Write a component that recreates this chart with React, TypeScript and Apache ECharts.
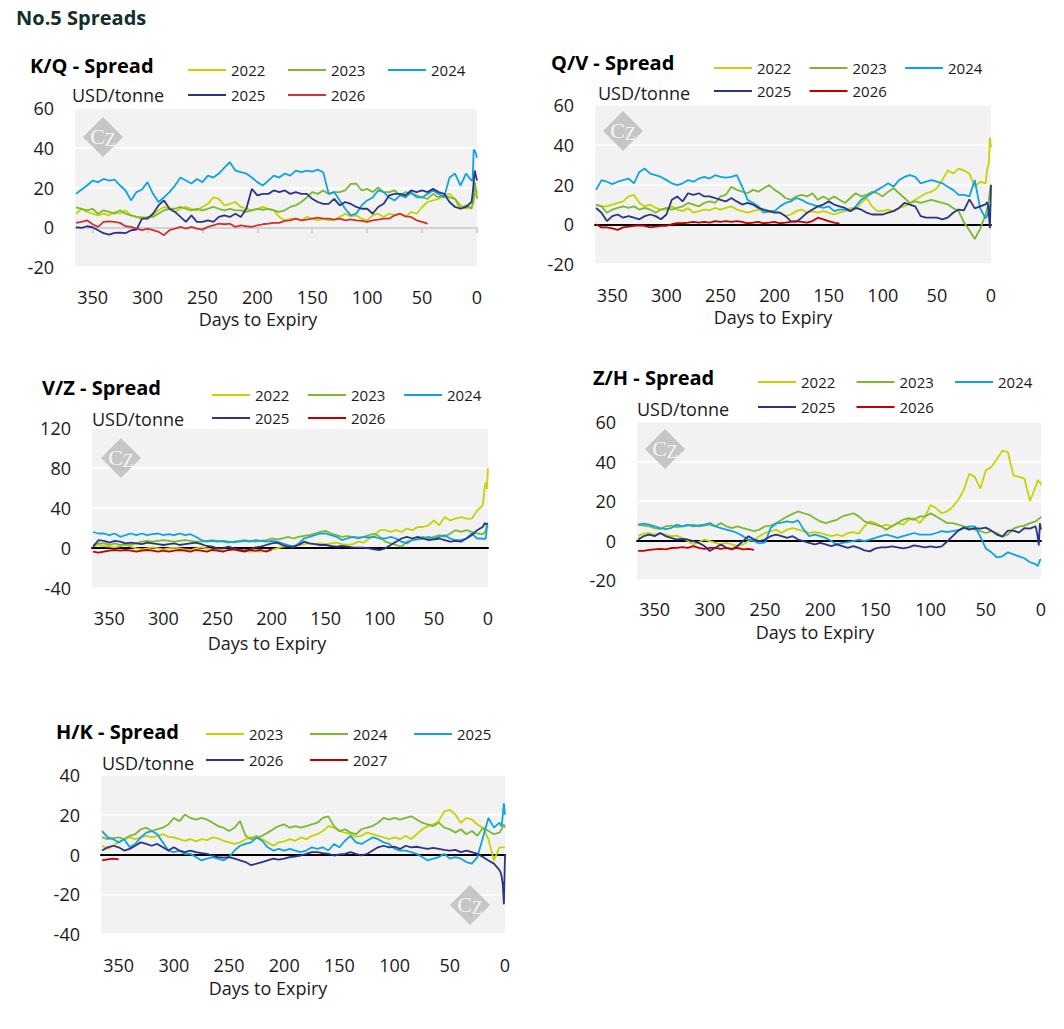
import React, { useEffect, useRef } from "react";
import * as echarts from "echarts";

// Days to expiry (x grid shared by all series)
const DAYS = [
  365, 360, 355, 350, 345, 340, 335, 330, 325, 320,
  315, 310, 305, 300, 295, 290, 285, 280, 275, 270,
  265, 260, 255, 250, 245, 240, 235, 230, 225, 220,
  215, 210, 205, 200, 195, 190, 185, 180, 175, 170,
  165, 160, 155, 150, 145, 140, 135, 130, 125, 120,
  115, 110, 105, 100, 95, 90, 85, 80, 75, 70,
  65, 60, 55, 50, 45, 40, 35, 30, 25, 20,
  15, 10, 5, 4, 3, 2, 1, 0,
];
const X_TICKS = [0, 50, 100, 150, 200, 250, 300, 350];

// ---------- K/Q ----------
const KQ_2022 = [
  6.8, 9.3, 7.7, 6.8, 6, 6.8, 6, 7.7, 6.8, 8.5,
  6, 5.2, 5.2, 4.3, 6, 8.5, 10.2, 9.3, 7.7, 9.3,
  10.2, 9.3, 8.5, 10.2, 11.8, 15, 14.3, 11, 11.8, 12.7,
  10.2, 9.3, 8.5, 9.3, 10.2, 9.3, 8.5, 5.2, 3.5, 4.3,
  4.3, 3.5, 5.2, 4.3, 3.5, 4.3, 3.5, 3.8, 5.2, 6.8,
  5.5, 6, 4.3, 3.5, 6, 6.8, 5.2, 6.8, 6, 6.8,
  5.2, 7.7, 6.8, 10.2, 12.7, 13.5, 14.3, 16, 16.8, 14.3,
  11, 9.3, 10.2, 11, 12.7, 16.8, 16, 18.5,
];
const KQ_2023 = [
  10, 9.3, 8.5, 9.3, 6.8, 8.5, 7.7, 6.8, 8.5, 6.8,
  6, 5.2, 4.3, 5.2, 5.2, 6.8, 8.5, 9.3, 9.3, 10.2,
  9.3, 8.5, 9.3, 8.5, 9.3, 10.2, 9.3, 8.5, 9.3, 8.5,
  8.5, 7.7, 8.5, 9.3, 8.8, 9.3, 8.5, 7.7, 8.5, 10.2,
  11, 12.7, 15, 17.7, 16.8, 18.5, 16.8, 17.7, 17.7, 18.5,
  21.8, 22, 18.5, 19.3, 17.7, 20, 17.7, 17.7, 18.5, 16,
  17.7, 16.8, 16, 15, 14.3, 16.8, 15, 16, 15, 14.3,
  9.3, 11, 9.3, 11.8, 15, 22.7, 19.3, 14.3,
];
const KQ_2024 = [
  16.8, 19, 21, 23.5, 22.7, 24.3, 23.5, 24, 21, 18.5,
  13.5, 17.7, 19, 22.7, 16.8, 12.7, 15, 17.7, 21, 25,
  23.5, 22, 24.3, 22.7, 26, 25, 27, 30, 32.7, 28.5,
  27.7, 27, 25, 22.7, 21, 23.5, 26, 25, 27, 26,
  28.5, 27.7, 28.5, 28, 29, 27.7, 16.8, 17.7, 13.5, 9.3,
  6, 6.8, 11, 13.5, 15, 18.5, 17.7, 15, 13.5, 16,
  15, 17.7, 15, 15, 16.8, 18.5, 16.8, 15, 25, 27,
  21, 27, 23.5, 23.5, 39, 38.5, 37, 35,
];
const KQ_2025 = [
  0, -0.3, 0.5, 0, -1.5, -3, -3.7, -2.8, -2.7, -3,
  -1.5, -1.2, 4.3, 4.3, 6.8, 11, 13.5, 9.3, 7.7, 5.2,
  2.7, 6, 2.7, 2.7, 3.5, 2.7, 5.2, 6, 5.2, 6.8,
  5.2, 9.3, 19.3, 16, 16.8, 16.8, 18.5, 17.7, 18.5, 16.8,
  17.7, 16.8, 16.8, 14.3, 12.7, 11.8, 11.8, 14.3, 11, 12.7,
  11.8, 10.2, 9.3, 9.3, 6.8, 10.2, 11.8, 16, 16.8, 16.8,
  16, 18.5, 17.7, 18.5, 17.7, 19.3, 17.7, 16.8, 12.7, 10.2,
  9.3, 10.2, 12.7, 16.8, 22.7, 28.5, 26, 23.5,
];
const KQ_2026 = [
  2.2, 2.7, 3.5, 1.5, 0.2, 2.7, 3, 2.7, 2.2, 0.5,
  0.2, -0.7, -1.5, -0.7, -1.5, -2.3, -4, -1.5, -0.7, 0.2,
  -0.7, 0.2, -0.7, -1.2, 0.2, 1, 1.8, 1.5, 1.8, 0.2,
  1, 0.5, 0.2, 1, 1.5, 1.8, 2.2, 2.2, 3.2, 3.5,
  4.3, 3.5, 3.8, 4.3, 4.8, 4.3, 4.3, 3.8, 4.3, 3.5,
  4, 3.5, 3.2, 2.7, 3.5, 3.8, 4.3, 4.3, 6, 6.8,
  5.5, 5.2, 3.5, 2.7, 1.8,
];

// ---------- Q/V ----------
const QV_2022 = [
  9.9, 9, 9, 9.9, 10.7, 11.5, 14, 14.8, 10.7, 9,
  9.9, 8.2, 7.4, 7.4, 9, 7.4, 6.6, 8.2, 5.8, 6.6,
  7.4, 7, 8.2, 7.4, 8.2, 9, 7.4, 6.6, 5.8, 6.6,
  7.4, 6.6, 5.8, 6.6, 5.8, 4.1, 4.9, 6.6, 7.4, 5.8,
  6.6, 5.8, 6.6, 5.8, 4.9, 5.8, 6.6, 8.2, 7.4, 10.7,
  13.2, 9, 6.6, 6.6, 7.4, 6.6, 8.2, 9, 10.7, 12.3,
  14, 15.6, 16.4, 18.1, 22.2, 27.1, 25.5, 28, 27.1, 25.5,
  18.9, 21.4, 20.6, 25.5, 28.8, 30.4, 43.6, 38.7,
];
const QV_2023 = [
  9.9, 9, 5.8, 7.4, 8.2, 9, 8.2, 9, 7.4, 8.2,
  7.4, 5.8, 7.4, 8.2, 7.4, 8.2, 9, 10.7, 9.9, 9,
  10.7, 11.5, 10.7, 14, 14.8, 18.9, 17.3, 16.4, 15.6, 17.3,
  16.4, 18.1, 19.7, 17.3, 15.6, 13.2, 12.3, 14, 14.8, 14,
  15.6, 12.3, 14, 12.3, 14, 12.3, 10.7, 13.2, 15.6, 14,
  14.8, 16.4, 15.6, 14, 16.4, 18.1, 15.6, 13.2, 10.7, 11.5,
  10.7, 11.5, 12.3, 11.5, 10.7, 10, 8.2, 6.6, 1, -3,
  -7.4, -2.3, 5, 7, 9, 12, 17, 20,
];
const QV_2024 = [
  17.3, 22.2, 21.4, 20.2, 21.4, 22.2, 23, 20.6, 26.3, 28,
  25.5, 24.7, 23.8, 22.2, 20.6, 19.7, 20.6, 22.2, 21.4, 23,
  23.8, 23, 24.7, 23.8, 23.5, 23.8, 24.7, 18.9, 12.3, 10.7,
  9, 5.8, 6.6, 6.6, 9, 10.7, 11.5, 13.2, 12.3, 10.7,
  9.9, 9, 8.2, 9, 6.6, 7.4, 7.4, 6.6, 9, 12.3,
  14, 15.6, 17.3, 18.9, 20.6, 18.9, 22.2, 23.8, 24.7, 23.8,
  20.6, 21.4, 22.2, 21.4, 20.6, 18.9, 17.3, 14.8, 14.8, 14,
  22.2, 8, 3, 4, 5, 7, 9, 10,
];
const QV_2025 = [
  8.2, 5.8, 1.6, 4.1, 4.9, 3.3, 4.1, 3.3, 2.5, 4.1,
  4.9, 4.1, 2.5, 4.9, 12.3, 14, 11.5, 15.6, 14.8, 15.6,
  14, 14, 13.2, 12.3, 11.5, 13.2, 11.5, 9.9, 10.7, 9.9,
  8.2, 7.4, 6.6, 5.8, 5.8, 4.1, 1.6, 1.2, 3.3, 5.8,
  7.4, 9, 9.9, 11.5, 9.9, 9, 8.2, 6.6, 8.2, 7.4,
  5.8, 4.9, 4.9, 4.9, 5.8, 6.6, 8.2, 10.7, 9.9, 9,
  4.1, 3.3, 3.3, 3.3, 2.5, 3.3, 5.8, 7.4, 7, 12.5,
  8, 9, 10, 11, 10.5, 5, -2, 19.7,
];
const QV_2026 = [
  0, -1.6, -1.6, -2.1, -2.8, -1.6, -1.2, -0.8, -0.5, -0.8,
  -1.6, -1.2, -0.8, -0.8, 0, 0.5, 0.5, 0.8, 1.2, 0.8,
  1.2, 0.8, 1.6, 1.2, 1.6, 1.2, 1.6, 1.2, 0.5, 0.8,
  1.2, 0.5, 0.8, 1.2, 0.5, 0.8, 1.2, 1.6, 1.2, 0.8,
  1.6, 3.3, 2.5, 1.6, 0.8, 0.3,
];

// ---------- V/Z ----------
const VZ_2022 = [
  1.3, 3, 2, 1.3, 0.7, 2, 3, 1.3, -0.3, -1.3,
  -0.3, 0.7, -0.3, -1.3, -0.3, 0.3, -0.3, -1.3, -2, -0.3,
  0.7, -0.3, -1.3, -2, -2.6, -2, -1.3, -2, -2.6, -3.6,
  -3, -3.6, -2.6, -2, -0.3, 1.3, 2, 1.3, 3, 3.9,
  4.6, 3.9, 4.6, 3.9, 4.6, 5.3, 3.9, 3, 3.9, 6.3,
  5.3, 9.5, 12.8, 17.8, 17.8, 16.1, 17.8, 16.1, 19.4, 17.8,
  21, 21, 22.7, 27.6, 22.7, 30.9, 27.6, 29.3, 30.9, 29.3,
  29.3, 37.5, 42.4, 50.7, 62, 65.5, 58.9, 79.6,
];
const VZ_2023 = [
  3, 4.6, 4.6, 3, 4.6, 3, 3.9, 3, 4.6, 6.3,
  7.2, 6.3, 7.2, 7.9, 7.2, 6.3, 7.2, 7.9, 7.2, 6.3,
  6.3, 7.2, 7.9, 7.2, 6.3, 5.3, 6.3, 7.2, 7.9, 7.2,
  6.3, 7.2, 7.9, 9.5, 8.6, 9.5, 11.2, 9.5, 11.2, 12.2,
  12.8, 14.5, 16.1, 17.1, 14.5, 12.8, 11.2, 11.8, 11.2, 10.5,
  11.2, 12.8, 14.5, 11.2, 6.3, 4.6, 3, 1.3, 6.3, 7.9,
  9.5, 11.2, 9.5, 11.2, 12.8, 11.2, 14.5, 17.8, 16.1, 17.8,
  16.1, 14.5, 13.8, 14.5, 16.1, 17.8, 24.3, 23.7,
];
const VZ_2024 = [
  16, 14.5, 14.5, 12.8, 14.5, 11.2, 12.8, 14.5, 12.8, 14.5,
  12.8, 13.8, 14.5, 12.8, 13.8, 12.8, 14.5, 12.8, 13.8, 11.2,
  7.9, 6.3, 7.2, 6.3, 7.2, 6.3, 5.6, 6.3, 7.2, 6.3,
  7.9, 7.2, 6.3, 7.2, 6.3, 4.6, 3, 1.3, 4.6, 9.5,
  11.2, 12.8, 14.5, 14.5, 12.8, 11.2, 7.9, 9.5, 11.2, 9.5,
  11.2, 10.5, 11.2, 9.5, 9.5, 11.2, 9.5, 6.3, 4.6, 7.9,
  8.6, 9.5, 11.2, 9.5, 11.2, 12.8, 9.5, 7.9, 7.9, 9.5,
  14.5, 9.5, 9.5, 8.6, 9.5, 9.5, 21, 22.7,
];
const VZ_2025 = [
  1.3, 7.9, 7.2, 5.3, 7.2, 6.3, 4.6, 5.3, 4.6, 3.9,
  5.3, 4.6, 3.9, 3, 3.9, 4.6, 3, 3.9, 4.6, 5.3,
  3.9, 2, 1.3, -0.3, -0.3, 1.3, -0.3, -2, -2.6, -1.3,
  0.7, 1.3, 3, 4.6, 5.3, 3, 1.3, 1.3, 3, 6.3,
  4.6, 3.9, 3, 3, 2, 1.3, 2, 1.3, 0.7, 0.3,
  0.3, -0.3, -1.3, -2, -0.3, 3, 6.3, 9.5, 11.2, 9.5,
  11.2, 9.5, 7.9, 8.6, 9.5, 7.9, 6.3, 7.2, 6.3, 9.5,
  12.8, 17.8, 21, 22.7, 25, 23.7, 24.3, 24.3,
];
const VZ_2026 = [
  -3.6, -4.6, -3.6, -2.6, -2, -2.6, -2, -2.6, -3.6, -2.6,
  -2, -2.6, -3.6, -2.6, -3.6, -2.6, -2, -2.6, -3.6, -2,
  -2.6, -3.6, -2, -2.6, -3.6, -2, -1.3, -2.6, -3.6, -2,
  -2.6, -2, -3.6, -1.3,
];

// ---------- Z/H ----------
const ZH_2022 = [
  2.2, 3.5, 3.8, 3, 3.8, 3, 2.2, 2.5, 1.3, -0.3,
  -2, -0.8, 0.5, -0.3, -1.2, -2, -1.2, -2, -2.8, -2,
  -0.3, 0.5, 2.2, 3.8, 4.7, 5.5, 3.8, 5.5, 6.3, 5.5,
  4.7, 3.8, 4.2, 3.8, 3, 2.2, 3, 2.2, 3.8, 4.2,
  3.5, 7.2, 9.7, 8.8, 7.2, 8, 7.2, 8.8, 8, 10.5,
  11.3, 8.8, 12.2, 18, 16.3, 13.8, 14.7, 17, 20.5, 25.5,
  33.8, 32.2, 26.3, 35.5, 37.2, 41.3, 45.5, 44.7, 33, 32.2,
  31.3, 20, 27.2, 28.5, 30.5, 30, 29.7, 28,
];
const ZH_2023 = [
  8, 7.5, 7.2, 6.3, 5.8, 7.2, 7.5, 6.8, 7.2, 7.5,
  8, 7.2, 7.5, 8, 7.2, 8.8, 7.2, 6.3, 7.2, 6.3,
  5.5, 4.7, 5.5, 7.2, 7.5, 8.8, 10.5, 12.2, 13.5, 14.7,
  13.8, 13, 11.3, 9.7, 8.8, 9.7, 10.5, 12.2, 13, 13.8,
  12.2, 9.7, 8.8, 8, 7.2, 5.5, 7.2, 8.8, 10.5, 11.3,
  10.5, 12.2, 12.2, 13.8, 12.2, 10.5, 8.8, 8.8, 8, 7.2,
  6.3, 5.5, 4.7, 3.8, 4.7, 3.8, 2, 3, 6, 7,
  7.5, 8.8, 9.7, 10, 10.5, 11, 11.3, 12.2,
];
const ZH_2024 = [
  8, 8.5, 8, 7.2, 6.3, 5.8, 6.3, 8, 7.2, 8,
  7.2, 7.7, 8, 8.8, 7.2, 6.3, 5.5, 4.7, 3.8, 2.2,
  0.5, -0.3, -1.5, -1, 6.3, 8.5, 9, 9.7, 9.2, 10.2,
  5.5, 2.2, 3, 2.2, 1.3, -0.3, -2, -1.2, -0.8, -0.3,
  0.5, -0.3, 0.5, 1.3, 2.2, 3, 2.2, 1.3, 2.2, 3,
  3.8, 3, 3, 3, 3.8, 4.7, 4.3, 4.7, 5.2, 6.3,
  7.2, 7.2, 2, -4, -6, -8.5, -8, -6, -7, -8,
  -9, -11, -12, -12.5, -13, -11.5, -10, -9.5,
];
const ZH_2025 = [
  0.5, 2.2, 3, 2.2, 3.8, 2.2, 1.3, 0.5, 0.8, 0.5,
  -0.3, -1.2, -2.8, -5.3, -3.7, -2, -3.7, -4.5, -2.8, -0.3,
  2.2, 0.5, -0.3, 0.5, 2.2, 3, 2.2, 1.3, 2.2, 0.5,
  -0.3, -1.2, -2, -1.2, -2, -2.8, -2, -2.8, -3.7, -2.8,
  -3.7, -5, -5.5, -4, -3.5, -3.5, -3, -3.5, -4, -3.5,
  -2.5, -3, -3.5, -3, -3.5, -3, -0.5, 2.2, 5, 6.5,
  5.5, 6.3, 6, 6.5, 5, 3, 2, 5, 5, 4,
  6.3, 6, 7.2, 5, 2, -2.5, 8.8, 5.5,
];
const ZH_2026 = [
  -5.3, -5.3, -4.8, -4.5, -4.2, -4.5, -3.8, -3.7, -3.3, -3.7,
  -2.8, -3.7, -4.2, -3.7, -3.7, -4.2, -3.7, -4.2, -3.7, -4.5,
  -4.2, -4.8,
];

// ---------- H/K ----------
const HK_2023 = [
  4.4, 2.8, 4.4, 6.1, 7.7, 8.6, 7.7, 8.6, 9.4, 8.6,
  9.4, 10.2, 8.9, 8.6, 7.7, 6.9, 7.7, 6.6, 7.7, 7.2,
  8.6, 8.1, 6.9, 6.1, 5.3, 6.1, 7.7, 8.6, 9.4, 7.7,
  6.1, 4.4, 6.1, 6.6, 7.7, 6.9, 8.6, 7.7, 9.4, 10.2,
  11.8, 14.3, 13.5, 11.8, 11, 10.2, 8.9, 9.4, 11, 10.2,
  9.4, 8.6, 7.7, 8.6, 7.7, 9.4, 7.7, 10.2, 12.7, 14.3,
  15.1, 16.8, 21.7, 22.5, 20.1, 16, 18.4, 17.6, 15.1, 13.5,
  7.7, -3, 3.6, 3.6, 3.6, 3.6, 3.6, 3.6,
];
const HK_2024 = [
  8.6, 7.7, 8.2, 8.6, 7.7, 9.4, 10.2, 12.7, 13.5, 11.8,
  12.7, 13.5, 15.1, 18.4, 16.8, 20.1, 18.4, 17.6, 18.4, 17.6,
  16, 14.3, 13.5, 11.8, 13.5, 16.8, 9.4, 7.7, 8.6, 9.4,
  11, 12.7, 14.3, 15.1, 13.5, 14.3, 13.5, 14.3, 15.1, 16,
  18.4, 19.2, 14.3, 11.8, 12.7, 11, 10.2, 12.7, 13.5, 14.3,
  16, 18.4, 17.6, 18.4, 17.6, 18.4, 19.2, 17.6, 16, 15.1,
  14.3, 16, 13.5, 12.7, 11, 12.7, 10.2, 11.8, 9.4, 13.5,
  11.8, 10.2, 11, 12, 12.7, 14, 15.1, 13.5,
];
const HK_2025 = [
  11.8, 8.6, 7.7, 6.1, 7.7, 3.6, 5.3, 8.6, 11, 11.8,
  10.2, 6.1, 2, 1.2, 2, 0.3, 0.3, -1.3, -3, -2.1,
  -1.3, -2.1, -3, -1.3, 2, 4.4, 5.3, 6.1, 8.6, 6.9,
  3.6, 2, 2.8, 2, 2.8, 2, 1.2, 2, 3.6, 2.8,
  3.6, 2, 5.3, 3.6, 6.9, 9.4, 6.1, 5.3, 6.9, 8.6,
  7.7, 6.1, 5.3, 2.8, 2, 2, 1.2, 0.3, -1.3, -3,
  -2.1, -1.3, 0.3, -2.1, -1.3, -2.1, -3.8, -4.6, -1.3, 8.6,
  18.4, 13.5, 16, 15, 14.3, 20, 25.8, 20.1,
];
const HK_2026 = [
  2, 3.6, 4.4, 3.6, 2, 2.8, 4.4, 6.1, 5.3, 4.4,
  5.3, 3.6, 2, 3.6, 2, 1.2, 2, 1.2, 0.7, 0.3,
  -0.5, -1.3, -1.6, -1.3, -2.1, -3, -3.8, -5.4, -4.6, -3.8,
  -3, -2.1, -2.6, -2.1, -1.3, -1, -0.5, 0.3, 1.2, 1.2,
  0.7, 0.3, -0.5, 0, 0.3, 1.2, 0.3, -0.5, 0.3, 2,
  3.6, 4.4, 3.6, 3.9, 2.8, 4.4, 3.6, 3.9, 3.3, 2.8,
  3.3, 2.8, 2.3, 2, 2.3, 1.2, 2, 1.2, 0.3, -1.3,
  -3, -4.6, -7.9, -9, -11.2, -15, -25, 0,
];
const HK_2027 = [-3, -2.5, -2.1, -2.5];

const YELLOW = "#c5d400";
const GREEN = "#7cb930";
const BLUE = "#0fa3e1";
const NAVY = "#2b3485";
const RED_LIGHT = "#cc3335";
const RED = "#c00000";

const PANELS = [
  {
    key: "KQ", title: "K/Q - Spread", titleX: 30, titleY: 65,
    grid: { left: 75, top: 108, width: 402, height: 159 },
    yMin: -20, yMax: 60, yInt: 20,
    zeroColor: "#d3d3d3", zeroTicks: true, labelMargin: 21,
    unitX: 72, unitY: 95, axisTitleX: 258, axisTitleY: 319,
    legendX: 188, legendRows: [70, 95], legendGap: 22.7, mark: [103, 137],
    series: [
      { name: "2022", color: YELLOW, values: KQ_2022 },
      { name: "2023", color: GREEN, values: KQ_2023 },
      { name: "2024", color: BLUE, values: KQ_2024 },
      { name: "2025", color: NAVY, values: KQ_2025 },
      { name: "2026", color: RED_LIGHT, values: KQ_2026 },
    ],
  },
  {
    key: "QV", title: "Q/V - Spread", titleX: 551, titleY: 62,
    grid: { left: 595, top: 105, width: 396, height: 159 },
    yMin: -20, yMax: 60, yInt: 20,
    zeroColor: "#000000", zeroTicks: false, labelMargin: 22,
    unitX: 598, unitY: 93, axisTitleX: 773, axisTitleY: 317,
    legendX: 714, legendRows: [68, 91], legendGap: 18.2, mark: [623, 131],
    series: [
      { name: "2022", color: YELLOW, values: QV_2022 },
      { name: "2023", color: GREEN, values: QV_2023 },
      { name: "2024", color: BLUE, values: QV_2024 },
      { name: "2025", color: NAVY, values: QV_2025 },
      { name: "2026", color: RED, values: QV_2026 },
    ],
  },
  {
    key: "VZ", title: "V/Z - Spread", titleX: 42, titleY: 387,
    grid: { left: 92, top: 428, width: 396, height: 160 },
    yMin: -40, yMax: 120, yInt: 40,
    zeroColor: "#000000", zeroTicks: false, labelMargin: 21,
    unitX: 92, unitY: 419, axisTitleX: 267, axisTitleY: 643,
    legendX: 212, legendRows: [395, 418], legendGap: 18.7, mark: [121, 458],
    series: [
      { name: "2022", color: YELLOW, values: VZ_2022 },
      { name: "2023", color: GREEN, values: VZ_2023 },
      { name: "2024", color: BLUE, values: VZ_2024 },
      { name: "2025", color: NAVY, values: VZ_2025 },
      { name: "2026", color: RED, values: VZ_2026 },
    ],
  },
  {
    key: "ZH", title: "Z/H - Spread", titleX: 593, titleY: 377,
    grid: { left: 637, top: 422, width: 404, height: 158 },
    yMin: -20, yMax: 60, yInt: 20,
    zeroColor: "#000000", zeroTicks: false, labelMargin: 20,
    unitX: 637, unitY: 409, axisTitleX: 815, axisTitleY: 632,
    legendX: 758, legendRows: [382, 407], legendGap: 21.2, mark: [665, 449],
    series: [
      { name: "2022", color: YELLOW, values: ZH_2022 },
      { name: "2023", color: GREEN, values: ZH_2023 },
      { name: "2024", color: BLUE, values: ZH_2024 },
      { name: "2025", color: NAVY, values: ZH_2025 },
      { name: "2026", color: RED, values: ZH_2026 },
    ],
  },
  {
    key: "HK", title: "H/K - Spread", titleX: 56, titleY: 731,
    grid: { left: 101, top: 775, width: 404, height: 159 },
    yMin: -40, yMax: 40, yInt: 20,
    zeroColor: "#000000", zeroTicks: false, labelMargin: 22,
    unitX: 102, unitY: 763, axisTitleX: 268, axisTitleY: 988,
    legendX: 206, legendRows: [734, 760], legendGap: 26.7, mark: [470, 905],
    series: [
      { name: "2023", color: YELLOW, values: HK_2023 },
      { name: "2024", color: GREEN, values: HK_2024 },
      { name: "2025", color: BLUE, values: HK_2025 },
      { name: "2026", color: NAVY, values: HK_2026 },
      { name: "2027", color: RED, values: HK_2027 },
    ],
  },
];

const FONT = '"Open Sans", "DejaVu Sans", sans-serif';
const SERIF = '"Liberation Serif", "DejaVu Serif", serif';
const TEXT_COLOR = "#1a1a1a";

function watermark(cx: number, cy: number) {
  return [
    {
      type: "polygon", z: 1, silent: true,
      shape: { points: [[cx, cy - 20], [cx + 20, cy], [cx, cy + 20], [cx - 20, cy]] },
      style: { fill: "#c6c6c6" },
    },
    {
      type: "text", z: 1, silent: true, x: cx, y: cy,
      style: {
        text: "{c|C}{z|Z}",
        align: "center", verticalAlign: "middle",
        rich: {
          c: { fontSize: 22, fontFamily: SERIF, fill: "#f5f5f5", color: "#f5f5f5", lineHeight: 24, verticalAlign: "top", padding: [0, 0, 6, 0] },
          z: { fontSize: 18, fontFamily: SERIF, fill: "#f5f5f5", color: "#f5f5f5", lineHeight: 24, verticalAlign: "bottom", padding: [8, 0, 0, 0] },
        },
      },
    },
  ];
}

function buildOption() {
  const grid: any[] = [];
  const xAxis: any[] = [];
  const yAxis: any[] = [];
  const legend: any[] = [];
  const series: any[] = [];
  const graphic: any[] = [];

  graphic.push({
    type: "text", x: 16, y: 17,
    style: { text: "No.5 Spreads", fill: "#142e2d", font: `bold 20px ${FONT}`, align: "left", verticalAlign: "middle" },
  });

  PANELS.forEach((p, i) => {
    grid.push({ ...p.grid, show: true, backgroundColor: "#f2f2f2", borderWidth: 0, containLabel: false, outerBoundsMode: "none" });
    xAxis.push({
      type: "value", gridIndex: i, min: 0, max: 366, inverse: true,
      axisLine: { show: true, onZero: true, lineStyle: { color: p.zeroColor, width: 2 } },
      axisTick: { show: p.zeroTicks, length: 6, customValues: X_TICKS, lineStyle: { color: p.zeroColor, width: 2 } },
      axisLabel: { margin: p.labelMargin, fontSize: 18, color: TEXT_COLOR, fontFamily: FONT, customValues: X_TICKS },
      splitLine: { show: false },
    });
    yAxis.push({
      type: "value", gridIndex: i, min: p.yMin, max: p.yMax, interval: p.yInt,
      axisLine: { show: false }, axisTick: { show: false },
      axisLabel: { margin: 21, fontSize: 18, color: TEXT_COLOR, fontFamily: FONT },
      splitLine: { show: true, lineStyle: { color: "#ffffff", width: 1.5 } },
    });
    const names = p.series.map((s) => `${p.key}|${s.name}`);
    [names.slice(0, 3), names.slice(3)].forEach((row, r) => {
      legend.push({
        left: p.legendX, top: p.legendRows[r] - 7.5, orient: "horizontal", padding: 0,
        itemGap: p.legendGap, itemWidth: 38, itemHeight: 2, icon: "rect", selectedMode: false,
        data: row, formatter: (n: string) => n.split("|")[1],
        textStyle: { fontSize: 15, color: TEXT_COLOR, fontFamily: FONT },
      });
    });
    p.series.forEach((s) => {
      series.push({
        type: "line", name: `${p.key}|${s.name}`, xAxisIndex: i, yAxisIndex: i,
        data: s.values.map((v, k) => [DAYS[k], v]),
        showSymbol: false, symbol: "none", silent: true,
        lineStyle: { color: s.color, width: 1.8 }, itemStyle: { color: s.color },
        z: 3,
      });
    });
    graphic.push({
      type: "text", x: p.titleX, y: p.titleY,
      style: { text: p.title, fill: "#000000", font: `bold 20px ${FONT}`, align: "left", verticalAlign: "middle" },
    });
    graphic.push({
      type: "text", x: p.unitX, y: p.unitY,
      style: { text: "USD/tonne", fill: TEXT_COLOR, font: `18px ${FONT}`, align: "left", verticalAlign: "middle" },
    });
    graphic.push({
      type: "text", x: p.axisTitleX, y: p.axisTitleY,
      style: { text: "Days to Expiry", fill: TEXT_COLOR, font: `18px ${FONT}`, align: "center", verticalAlign: "middle" },
    });
    graphic.push(...watermark(p.mark[0], p.mark[1]));
  });

  return {
    animation: false,
    backgroundColor: "#ffffff",
    textStyle: { fontFamily: FONT },
    grid, xAxis, yAxis, legend, series, graphic,
  };
}

export default function App() {
  const ref = useRef<HTMLDivElement>(null);
  useEffect(() => {
    if (!ref.current) return;
    const chart = echarts.init(ref.current, undefined, { renderer: "svg" });
    chart.setOption(buildOption() as any);
    return () => chart.dispose();
  }, []);
  return (
    <div
      ref={ref}
      style={{ position: "absolute", left: 0, top: 0, width: 1064, height: 1029, background: "#fff" }}
    />
  );
}
